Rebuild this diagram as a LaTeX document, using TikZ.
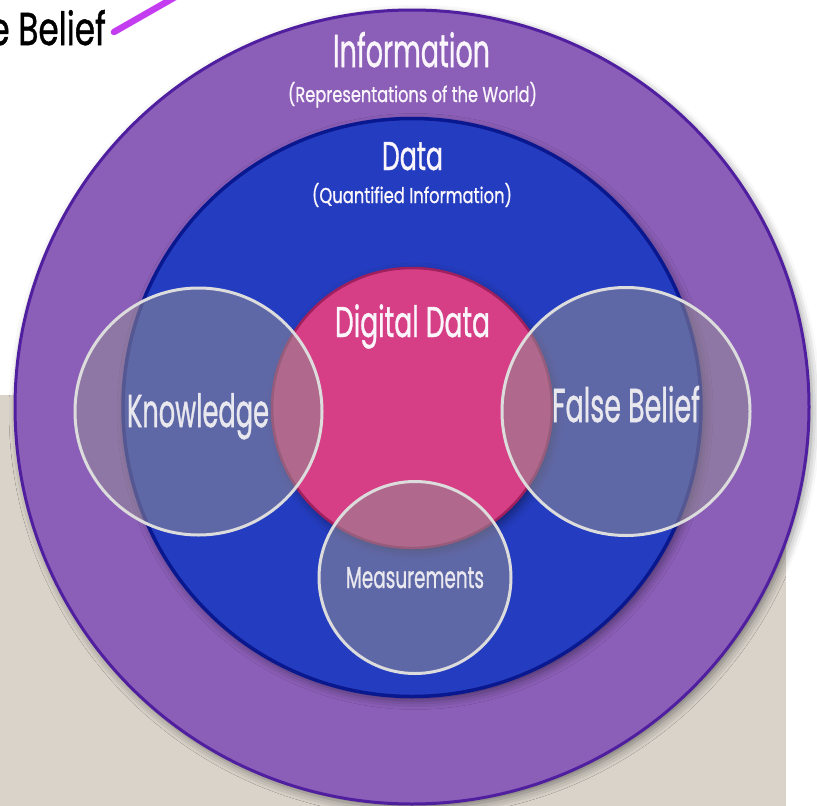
\documentclass[tikz,border=0pt]{standalone}
\usepackage{fontspec}
\usepackage{graphicx}
\newfontfamily\fut[FakeBold=1.1]{Poppins}
\usetikzlibrary{shadows.blur}
\newcommand\fitcap[3]{\resizebox{#1pt}{#2pt}{\fut\smash{#3}\vphantom{H}}}
\definecolor{beige}{HTML}{D9D3CA}
\definecolor{infofill}{HTML}{8B5FB8}
\definecolor{infoline}{HTML}{4F1FA0}
\definecolor{datafill}{HTML}{243DC0}
\definecolor{dataline}{HTML}{0A1890}
\definecolor{digfill}{HTML}{D63F86}
\definecolor{digline}{HTML}{A0205E}
\definecolor{ovfill}{HTML}{918C94}
\definecolor{ovline}{HTML}{DCDCDC}
\definecolor{pointer}{HTML}{C43CF0}
\definecolor{txtw}{HTML}{FBF6FB}
\definecolor{txtg}{HTML}{E8E8EE}
\begin{document}
\begin{tikzpicture}[x=1pt,y=-1pt,
  ring/.style={circle,inner sep=0pt,minimum size=#1},
  softshadow/.style={blur shadow={shadow xshift=3pt,shadow yshift=-4pt,shadow blur radius=9pt,shadow opacity=45}},
  overlay circ/.style={ring=#1,fill=ovfill,fill opacity=0.55,draw=ovline,line width=3pt},
  lbl/.style={inner sep=0pt,anchor=base}]
\useasboundingbox (0,0) rectangle (817,806);
\clip (0,0) rectangle (817,806);
\fill[beige] (0,395) rectangle (786,806);
% partly hidden label at top left
\node[lbl,anchor=base east] (fbtop) at (106,45) {\color{black}\fitcap{180}{32}{False Belief}};
\coordinate (ptrend) at (205,-20);
\draw[pointer,line width=6.5pt,line cap=round] ([xshift=8pt,yshift=-3pt]fbtop.east) -- (ptrend);
% nested circles
\node[ring=794,fill=infofill,draw=infoline,line width=3pt,softshadow] (info) at (412,407) {};
\node[lbl] (infot) at (411.5,67) {\color{txtw}\fitcap{157}{32}{Information}};
\node[lbl] (infos) at (412.5,102) {\color{txtw}\fitcap{249}{15}{(Representations of the World)}};
\node[ring=578,fill=datafill,draw=dataline,line width=3.5pt,softshadow] (data) at (412,407.5) {};
\node[lbl] (datat) at (412.5,170) {\color{txtw}\fitcap{61}{28}{Data}};
\node[lbl] (datas) at (412,203) {\color{txtw}\fitcap{200}{15}{(Quantified Information)}};
\node[ring=280,fill=digfill,draw=digline,line width=2.5pt,softshadow] (dig) at (412,408) {};
\node[lbl] (digt) at (412.5,337) {\color{txtw}\fitcap{155}{30}{Digital Data}};
% overlapping translucent circles
\node[overlay circ=247] (know) at (198.5,411.5) {};
\node[overlay circ=248] (fals) at (626,411.5) {};
\node[overlay circ=192] (meas) at (415,577.5) {};
\node[lbl] (knowt) at (198,427) {\color{txtg}\fitcap{142}{32}{Knowledge}};
\node[lbl] (falst) at (626,422) {\color{txtg}\fitcap{148}{33}{False Belief}};
\node[lbl] (meast) at (415,588) {\color{txtg}\fitcap{138}{21}{Measurements}};
\end{tikzpicture}
\end{document}
